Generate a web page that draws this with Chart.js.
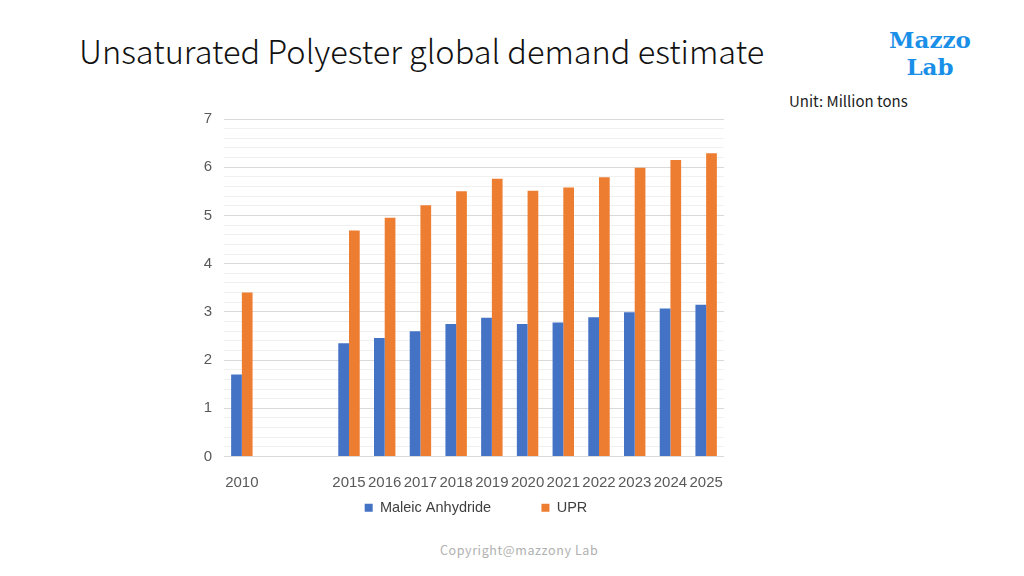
<!DOCTYPE html>
<html>
<head>
<meta charset="utf-8">
<script src="https://cdn.jsdelivr.net/npm/chart.js@4"></script>
<style>
  body { margin: 0; background: #fff; width: 1024px; height: 576px; overflow: hidden; position: relative; font-family: "Noto Sans CJK SC", "Noto Sans", sans-serif; }
  #title { position: absolute; left: 79px; top: 26px; font-size: 32.5px; font-weight: 300; color: #111; white-space: nowrap; }
  #logo { position: absolute; left: 872px; top: 26px; width: 116px; text-align: center; font-family: "DejaVu Serif", "Liberation Serif", serif; font-weight: bold; font-size: 23px; line-height: 27px; color: #1a8fe8; }
  #unit { position: absolute; left: 789px; top: 90px; font-size: 15px; color: #222; }
  #copy { position: absolute; left: 440px; top: 540px; font-size: 12.5px; color: #b0b0b0; letter-spacing: 0.6px; }
  #box { position: absolute; left: 180px; top: 98px; width: 560px; height: 427px; }
</style>
</head>
<body>
<div id="title">Unsaturated Polyester global demand estimate</div>
<div id="logo">Mazzo<br>Lab</div>
<div id="unit">Unit: Million tons</div>
<div id="copy">Copyright@mazzony Lab</div>
<div id="box"><canvas id="grafico"></canvas></div>
<script>
//Datos del gráfico
const years = ['2010', '', '', '2015', '2016', '2017', '2018', '2019', '2020', '2021', '2022', '2023', '2024', '2025']
const maleic = [1.7, null, null, 2.35, 2.46, 2.6, 2.75, 2.88, 2.75, 2.78, 2.89, 2.99, 3.07, 3.15]
const upr = [3.4, null, null, 4.69, 4.95, 5.21, 5.5, 5.76, 5.51, 5.58, 5.79, 5.99, 6.15, 6.29]
const yTicks = [0, 1, 2, 3, 4, 5, 6, 7]
const seriesNames = ['Maleic Anhydride', 'UPR']
const seriesColors = ['#4472c4', '#ed7d31']

const isMajor = v => Math.abs(v - Math.round(v)) < 1e-6

//Mover la leyenda para que quede centrada bajo el área del gráfico
const legendShift = {
	id: 'legendShift',
	afterLayout: chart => {
		chart.legend.left += 24
		chart.legend.right += 24
	}
}

const generateBarChart = () => {
	let canvas = document.getElementById('grafico')
	new Chart(canvas, {
		type: 'bar',
		data: {
			labels: years,
			datasets: [
				{ label: seriesNames[0], data: maleic, backgroundColor: seriesColors[0] },
				{ label: seriesNames[1], data: upr, backgroundColor: seriesColors[1] }
			]
		},
		plugins: [legendShift],
		options: {
			responsive: true,
			maintainAspectRatio: false,
			animation: false,
			categoryPercentage: 0.6,
			barPercentage: 1.0,
			layout: { padding: { top: 12, right: 16, left: 0, bottom: 0 } },
			scales: {
				x: {
					afterFit: s => { s.height = 34 },
					grid: { display: false },
					border: { display: false },
					ticks: { color: '#595959', font: { size: 15 }, maxRotation: 0, autoSkip: false, padding: 9 }
				},
				y: {
					min: 0,
					max: yTicks[yTicks.length - 1],
					afterFit: s => { s.width = 44 },
					border: { display: false },
					grid: {
						color: c => isMajor(c.tick.value) ? '#d9d9d9' : '#f0f0f0',
						drawTicks: false
					},
					ticks: {
						stepSize: 0.2,
						autoSkip: false,
						color: '#595959',
						font: { size: 15 },
						padding: 12,
						callback: v => isMajor(v) && yTicks.includes(Math.round(v)) ? Math.round(v) : ''
					}
				}
			},
			plugins: {
				legend: {
					position: 'bottom',
					labels: {
						boxWidth: 8, boxHeight: 8, color: '#404040', font: { size: 14.5 }, padding: 10,
						//espacio extra entre las series
						generateLabels: chart => Chart.defaults.plugins.legend.labels.generateLabels(chart).map((l, i) => {
							if (i === 0) l.text = l.text + '          '
							return l
						})
					}
				},
				tooltip: { enabled: false }
			}
		}
	})
}

generateBarChart()
</script>
</body>
</html>
